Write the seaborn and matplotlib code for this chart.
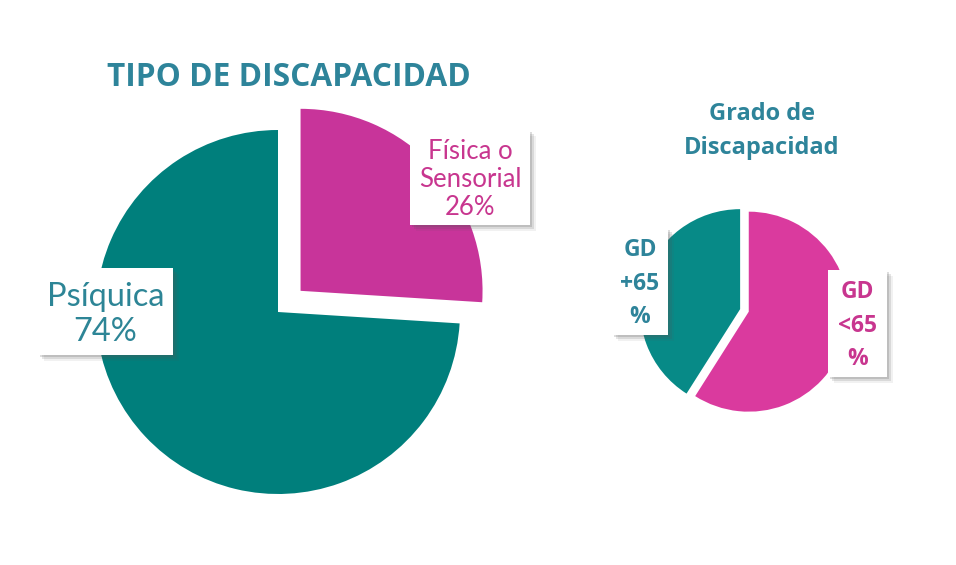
import numpy as np
import seaborn as sns
import matplotlib.pyplot as plt
from matplotlib.patches import Rectangle

# Data
tipo_labels = ["Física o\nSensorial\n26%", "Psíquica\n74%"]
tipo_values = [26, 74]
grado_labels = ["GD\n<65\n%", "GD\n+65\n%"]
grado_values = [59, 41]

sns.set_theme(style="white")
plt.rcParams['font.family'] = ['Lato', 'DejaVu Sans']

W, H = 956, 565
tipo_colors = sns.color_palette(["#C8349A", "#007F7C"])
grado_colors = sns.color_palette(["#DA3A9E", "#078A87"])
teal_txt = "#2E849A"
mag_txt = "#C8368F"

fig = plt.figure(figsize=(W / 100, H / 100), dpi=100)
fig.patch.set_facecolor("white")


def px_axes(cx, cy, r, lim=1.3):
    # axes whose unit radius is r pixels, centred on (cx, cy) from top-left
    side = 2 * lim * r
    ax = fig.add_axes([(cx - side / 2) / W, (H - cy - side / 2) / H, side / W, side / H])
    return ax


def label_box(x0, y0, x1, y1, text, color, size, weight="normal", family=None, ls=1.2, dy=0):
    # white box with a soft grey drop shadow, in pixel coords from top-left
    for k, a in [(6, 0.08), (4, 0.15), (2, 0.2)]:
        fig.patches.append(Rectangle(((x0 + k) / W, (H - y1 - k) / H), (x1 - x0) / W, (y1 - y0) / H,
                                     transform=fig.transFigure, facecolor="#555555", alpha=a,
                                     edgecolor="none", zorder=5))
    fig.patches.append(Rectangle((x0 / W, (H - y1) / H), (x1 - x0) / W, (y1 - y0) / H,
                                 transform=fig.transFigure, facecolor="white", edgecolor="none", zorder=6))
    fig.text((x0 + x1) / 2 / W, 1 - ((y0 + y1) / 2 + dy) / H, text, ha="center", va="center",
             color=color, fontsize=size, fontweight=weight, linespacing=ls, zorder=7,
             family=family or ['Lato', 'DejaVu Sans'])


# left pie
ax1 = px_axes(278, 312, 182)
ax1.pie(tipo_values, colors=tipo_colors, startangle=90, counterclock=False,
        explode=[0.17, 0], wedgeprops=dict(linewidth=0))
ax1.set_xlim(-1.3, 1.3)
ax1.set_ylim(-1.3, 1.3)
ax1.axis("off")

# right pie
ax2 = px_axes(743, 310, 100)
ax2.pie(grado_values, colors=grado_colors, startangle=90, counterclock=False,
        explode=[0.06, 0.03], wedgeprops=dict(linewidth=0))
ax2.set_xlim(-1.3, 1.3)
ax2.set_ylim(-1.3, 1.3)
ax2.axis("off")

# titles
fig.text(289 / W, 1 - 78 / H, "TIPO DE DISCAPACIDAD", ha="center", va="center",
         color=teal_txt, fontsize=22.8, fontweight="bold", family=["Open Sans", "DejaVu Sans"])
fig.text(762 / W, 1 - 131 / H, "Grado de\nDiscapacidad", ha="center", va="center",
         color=teal_txt, fontsize=17, fontweight="bold", linespacing=1.6,
         family=["Open Sans", "DejaVu Sans"])

# labels
label_box(38, 268, 173, 355, tipo_labels[1], "#2D8596", 23.5, ls=1.2, dy=3)
label_box(410, 130, 530, 225, tipo_labels[0], mag_txt, 18.5, ls=1.15, dy=2)
label_box(612, 228, 668, 335, grado_labels[1], teal_txt, 16.5, weight="bold", ls=1.55,
          family=["Open Sans", "DejaVu Sans"], dy=2)
label_box(828, 270, 887, 377, grado_labels[0], mag_txt, 16.5, weight="bold", ls=1.55,
          family=["Open Sans", "DejaVu Sans"], dy=2)

fig.savefig("out.png", dpi=100, facecolor="white")
